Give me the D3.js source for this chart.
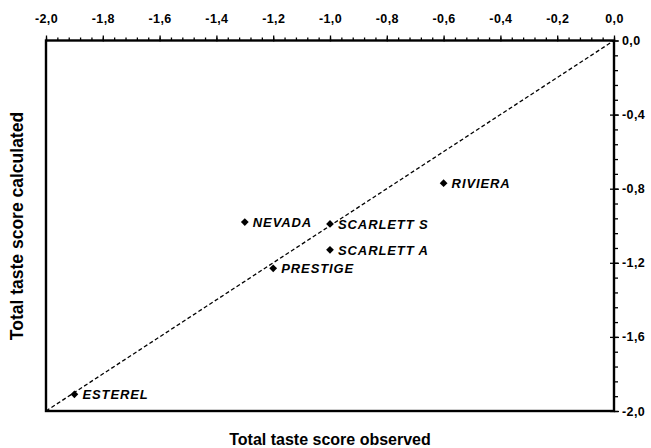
<!DOCTYPE html>
<html>
<head>
<meta charset="utf-8">
<script src="https://cdn.jsdelivr.net/npm/d3@7"></script>
<style>
  body { margin: 0; background: #fff; }
  text { font-family: "Liberation Sans", Arial, sans-serif; font-weight: bold; fill: #000; }
  .tick text { font-size: 12.5px; letter-spacing: 0.4px; }
  .lbl { font-style: italic; font-size: 13px; letter-spacing: 0.9px; }
  .title { font-size: 16px; }
</style>
</head>
<body>
<svg width="651" height="448"></svg>
<script>
  const varieties = ["RIVIERA", "NEVADA", "SCARLETT S", "SCARLETT A", "PRESTIGE", "ESTEREL"];
  const observed = [-0.6, -1.3, -1.0, -1.0, -1.2, -1.9];
  const calculated = [-0.77, -0.98, -0.99, -1.13, -1.23, -1.91];
  const xTicks = [-2.0, -1.8, -1.6, -1.4, -1.2, -1.0, -0.8, -0.6, -0.4, -0.2, 0.0];
  const yTicks = [0.0, -0.4, -0.8, -1.2, -1.6, -2.0];

  const svg = d3.select("svg");
  const pLeft = 46, pRight = 614, pTop = 40.5, pBottom = 411;

  const x = d3.scaleLinear().domain([-2, 0]).range([pLeft, pRight]);
  const y = d3.scaleLinear().domain([-2, 0]).range([pBottom, pTop]);

  const fmt = d3.formatLocale({decimal: ",", thousands: ".", grouping: [3], currency: ["", ""], minus: "-"}).format(".1f");

  // minor ticks
  const xMinor = d3.range(0, 51).map(i => -2 + i * 0.04);
  const yMinor = d3.range(0, 26).map(i => -2 + i * 0.08);

  svg.append("g")
      .attr("transform", `translate(0,${pTop})`)
      .call(d3.axisTop(x).tickValues(xMinor).tickSize(3).tickFormat(""))
      .call(g => g.select(".domain").remove())
      .selectAll("line").attr("stroke-width", 1.3);

  svg.append("g")
      .attr("transform", `translate(${pRight},0)`)
      .call(d3.axisRight(y).tickValues(yMinor).tickSize(4).tickFormat(""))
      .call(g => g.select(".domain").remove())
      .selectAll("line").attr("stroke-width", 1.3);

  // major ticks
  const xAxis = svg.append("g")
      .attr("transform", `translate(0,${pTop})`)
      .call(d3.axisTop(x).tickValues(xTicks).tickSize(5).tickPadding(13).tickFormat(fmt))
      .call(g => g.select(".domain").remove());
  xAxis.selectAll("line").attr("stroke-width", 1.3).attr("y2", -5).attr("y1", 1);

  const yAxis = svg.append("g")
      .attr("transform", `translate(${pRight},0)`)
      .call(d3.axisRight(y).tickValues(yTicks).tickSize(5).tickPadding(3).tickFormat(fmt))
      .call(g => g.select(".domain").remove());
  yAxis.selectAll("line").attr("stroke-width", 1.3).attr("x1", -4);

  // frame
  svg.append("rect")
      .attr("x", pLeft).attr("y", pTop)
      .attr("width", pRight - pLeft).attr("height", pBottom - pTop)
      .attr("fill", "none").attr("stroke", "#000").attr("stroke-width", 2.4);

  // 1:1 line
  svg.append("line")
      .attr("x1", x(-2)).attr("y1", y(-2))
      .attr("x2", x(0)).attr("y2", y(0))
      .attr("stroke", "#000").attr("stroke-width", 1.3)
      .attr("stroke-dasharray", "4,2.5");

  const data = varieties.map((name, i) => ({name, obs: observed[i], calc: calculated[i]}));

  const pts = svg.append("g").selectAll("g").data(data).enter().append("g")
      .attr("transform", d => `translate(${x(d.obs)},${y(d.calc)})`);

  pts.append("path")
      .attr("d", d3.symbol(d3.symbolSquare, 30))
      .attr("transform", "rotate(45)")
      .attr("fill", "#000");

  pts.append("text")
      .attr("class", "lbl")
      .attr("x", 8)
      .attr("y", 5)
      .text(d => d.name);

  // axis titles
  svg.append("text")
      .attr("class", "title")
      .attr("x", 330)
      .attr("y", 445)
      .attr("text-anchor", "middle")
      .text("Total taste score observed");

  svg.append("text")
      .attr("class", "title")
      .attr("transform", `translate(23,226) rotate(-90)`)
      .attr("text-anchor", "middle")
      .style("font-size", "17.5px")
      .text("Total taste score calculated");
</script>
</body>
</html>
